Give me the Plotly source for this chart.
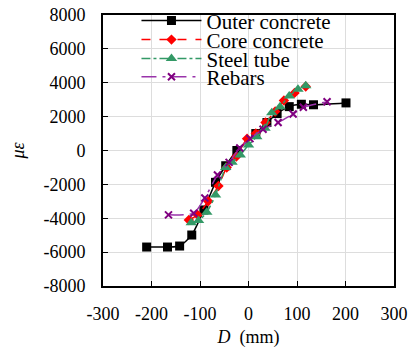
import plotly.graph_objects as go

outer_x = [-210, -167, -142, -117, -92, -68, -47, -24, 15, 38, 59, 84, 109, 134, 201]
outer_y = [-5700, -5700, -5640, -4990, -3510, -1880, -900, 0, 1000, 1650, 2180, 2590, 2730, 2700, 2810]

core_x = [-123, -105, -83, -62, -45, -25, -3, 15, 35, 55, 73, 95, 118]
core_y = [-4100, -3800, -3000, -2100, -1000, -350, 700, 1000, 1650, 2300, 2950, 3400, 3780]

tube_x = [-118, -103, -86, -68, -47, -34, -17, 0, 17, 34, 48, 65, 84, 102, 118]
tube_y = [-4260, -4140, -3650, -2630, -1000, -700, -265, 325, 815, 1310, 2230, 2590, 3217, 3612, 3825]

rebar_x = [-165, -113, -90, -64, -40, -18, 3, 30, 61, 92, 113, 162]
rebar_y = [-3800, -3700, -2800, -1450, -700, 150, 700, 1250, 1650, 2150, 2550, 2880]

x_ticks = [-300, -200, -100, 0, 100, 200, 300]
y_ticks = [-8000, -6000, -4000, -2000, 0, 2000, 4000, 6000, 8000]

FONT = "Liberation Serif"

fig = go.Figure()
fig.add_trace(go.Scatter(x=outer_x, y=outer_y, name="Outer concrete", mode="lines+markers", legend="legend",
                         line=dict(color="black", width=1.5, shape="spline", smoothing=0.6),
                         marker=dict(symbol="square", size=9, color="black")))
fig.add_trace(go.Scatter(x=core_x, y=core_y, name="Core concrete", mode="lines+markers", legend="legend2",
                         line=dict(color="red", width=1.5, dash="dash", shape="spline", smoothing=0.6),
                         marker=dict(symbol="diamond", size=8, color="red")))
fig.add_trace(go.Scatter(x=tube_x, y=tube_y, name="Steel tube", mode="lines+markers", legend="legend3",
                         line=dict(color="#339966", width=1.5, dash="dashdot", shape="spline", smoothing=0.6),
                         marker=dict(symbol="triangle-up", size=10, color="#339966")))
fig.add_trace(go.Scatter(x=rebar_x, y=rebar_y, name="Rebars", mode="lines+markers", legend="legend4",
                         line=dict(color="#9933aa", width=1.5, dash="longdashdot", shape="spline", smoothing=0.6),
                         marker=dict(symbol="x-thin", size=7, color="#800080", line=dict(width=2, color="#800080"))))

axis_common = dict(showline=True, linecolor="black", linewidth=2, mirror=True,
                   ticks="inside", ticklen=5, tickcolor="black", tickwidth=1,
                   showgrid=True, gridcolor="#dddddd", gridwidth=1, zeroline=False,
                   tickfont=dict(family=FONT, size=18, color="black"))

fig.update_xaxes(range=[-300, 300], tickvals=x_ticks, ticktext=[str(v) for v in x_ticks],
                 ticklabelstandoff=10,
                 title=dict(text="<i>D</i>  (mm)", font=dict(family=FONT, size=18, color="black"), standoff=8),
                 **axis_common)
fig.update_yaxes(range=[-8000, 8000], tickvals=y_ticks, ticktext=[str(v) for v in y_ticks],
                 ticklabelstandoff=12,
                 title=dict(text="<i>με</i>", font=dict(family=FONT, size=18, color="black"), standoff=14),
                 **axis_common)

leg_common = dict(x=0.115, xanchor="left", yanchor="middle", bgcolor="rgba(0,0,0,0)",
                  font=dict(family=FONT, size=21, color="black"), itemwidth=60)

fig.update_layout(
    width=414, height=361,
    margin=dict(l=103, r=20, t=15, b=75, autoexpand=False),
    paper_bgcolor="white", plot_bgcolor="white",
    font=dict(family=FONT, size=18, color="black"),
    showlegend=True,
    legend=dict(y=0.978, **leg_common),
    legend2=dict(y=0.908, **leg_common),
    legend3=dict(y=0.838, **leg_common),
    legend4=dict(y=0.771, **leg_common),
)

fig.write_html("out.html")
